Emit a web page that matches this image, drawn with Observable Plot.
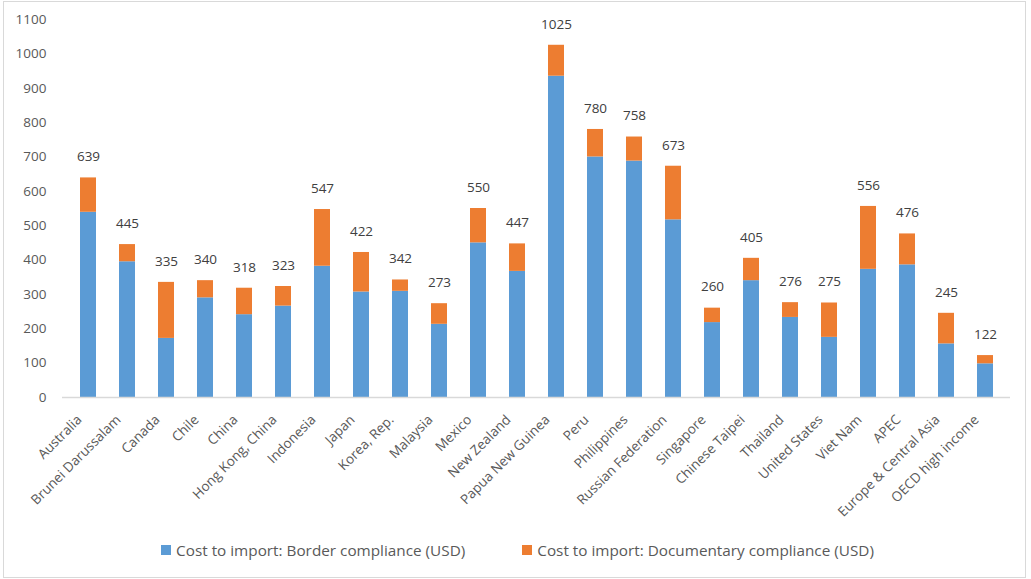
<!DOCTYPE html>
<html>
<head>
<meta charset="utf-8">
<script src="https://cdn.jsdelivr.net/npm/d3@7"></script>
<script src="https://cdn.jsdelivr.net/npm/@observablehq/plot@0.6"></script>
<style>
  html, body { margin: 0; padding: 0; background: #fff; }
  body { width: 1031px; height: 579px; position: relative; overflow: hidden; font-family: "Open Sans", "Noto Sans", sans-serif; }
  #frame { position: absolute; left: 3px; top: 1px; width: 1021px; height: 575px; border: 1px solid #d9d9d9; pointer-events: none; }
  #chart { position: absolute; left: 0; top: 0; }
  #legend { position: absolute; left: 0; top: 540px; width: 1031px; display: flex; justify-content: center; gap: 57px; font-size: 15.3px; color: #595959; padding-left: 4px; box-sizing: border-box; }
  .item { display: flex; align-items: center; gap: 5px; }
  .swatch { width: 10px; height: 10px; display: inline-block; }
</style>
</head>
<body>
<div id="chart"></div>
<div id="legend"></div>
<div id="frame"></div>
<script>
// Economies and regional aggregates along the x axis
const economies = [
  "Australia", "Brunei Darussalam", "Canada", "Chile", "China", "Hong Kong, China",
  "Indonesia", "Japan", "Korea, Rep.", "Malaysia", "Mexico", "New Zealand",
  "Papua New Guinea", "Peru", "Philippines", "Russian Federation", "Singapore",
  "Chinese Taipei", "Thailand", "United States", "Viet Nam", "APEC",
  "Europe & Central Asia", "OECD high income"
];
// Cost to import, border compliance (USD)
const borderCost = [
  539, 395, 172, 290, 241, 266,
  382, 307, 309, 213, 450, 367,
  935, 700, 688, 517, 218,
  340, 233, 175, 373, 386,
  156, 98
];
// Cost to import, documentary compliance (USD)
const documentaryCost = [
  100, 50, 163, 50, 77, 57,
  165, 115, 33, 60, 100, 80,
  90, 80, 70, 156, 42,
  65, 43, 100, 183, 90,
  89, 24
];
const seriesNames = [
  "Cost to import: Border compliance (USD)",
  "Cost to import: Documentary compliance (USD)"
];
const seriesColors = ["#5b9bd5", "#ed7d31"];
const yTicks = [0, 100, 200, 300, 400, 500, 600, 700, 800, 900, 1000, 1100];

// Long-format rows for the stacked bars
const rows = economies.flatMap((name, i) => [
  {name, series: seriesNames[0], value: borderCost[i]},
  {name, series: seriesNames[1], value: documentaryCost[i]}
]);
// Totals printed above each stack
const totals = economies.map((name, i) => ({name, total: borderCost[i] + documentaryCost[i]}));

const chart = Plot.plot({
  width: 1031,
  height: 536,
  marginLeft: 62,
  marginRight: 21,
  marginTop: 19,
  marginBottom: 139,
  style: {fontFamily: "'Open Sans', 'Noto Sans', sans-serif", color: "#595959", background: "transparent"},
  x: {domain: economies, paddingInner: 0.595, paddingOuter: 0.2975, label: null},
  y: {domain: [0, 1100], label: null},
  color: {domain: seriesNames, range: seriesColors},
  marks: [
    Plot.axisY({ticks: yTicks, tickFormat: d => String(d), tickSize: 0, tickPadding: 16, fontSize: 13.5, label: null}),
    Plot.axisX({tickSize: 0, tickPadding: 20, dx: -9, tickRotate: -45, fontSize: 13.5, label: null}),
    Plot.barY(rows, {x: "name", y: "value", fill: "series", order: seriesNames}),
    Plot.ruleY([0], {stroke: "#d9d9d9", strokeWidth: 1.5}),
    Plot.text(totals, {x: "name", y: "total", text: d => String(d.total), dy: -21, fontSize: 13.5, fill: "#404040"})
  ]
});
document.getElementById("chart").appendChild(chart);

// Legend below the plot
const legend = document.getElementById("legend");
seriesNames.forEach((s, i) => {
  const item = document.createElement("div");
  item.className = "item";
  const sw = document.createElement("span");
  sw.className = "swatch";
  sw.style.background = seriesColors[i];
  const label = document.createElement("span");
  label.textContent = s;
  item.appendChild(sw);
  item.appendChild(label);
  legend.appendChild(item);
});
</script>
</body>
</html>
